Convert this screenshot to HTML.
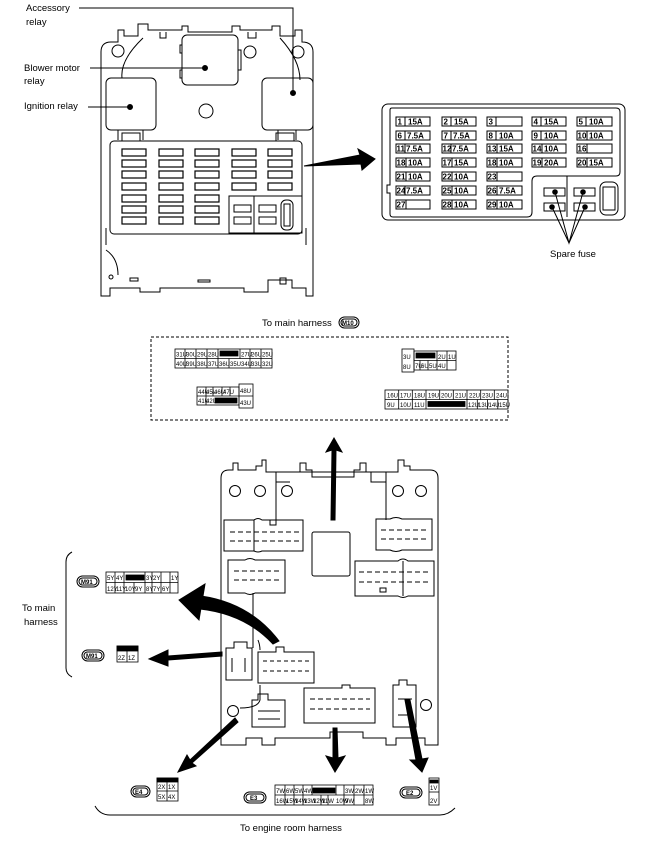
<!DOCTYPE html>
<html><head><meta charset="utf-8"><style>
html,body{margin:0;padding:0;background:#fff}
svg{display:block}
text{font-family:"Liberation Sans",sans-serif;fill:#000}
.s{font-size:6px}
.f{font-size:8px;font-weight:bold}
.l{font-size:9.5px}
</style></head><body>
<svg width="666" height="843" viewBox="0 0 666 843" xmlns="http://www.w3.org/2000/svg" fill="none" stroke="#000" stroke-width="1">
<path d="M101,296 V52 Q101,42 111,42 H118 V30 H124 V36 H138 V24 H148 V30 H182 V26 H188 V32 H232 V26 H240 V30 H272 V26 H280 V36 H295 V30 H302 V42 Q313,42 313,52 V296 H306 V288 H292 V280 H268 V292 H244 V288 H160 V292 H140 V288 H110 V296 Z"/>
<circle cx="118" cy="51" r="6"/><circle cx="250" cy="52" r="6"/><circle cx="298" cy="52" r="6"/>
<circle cx="206" cy="111" r="7"/>
<path d="M160,32 V38 H166 V32 M248,32 V38 H256 V32"/>
<path d="M143,38 Q120,60 122,78 M280,38 Q300,60 300,80"/>
<rect x="182" y="35" width="56" height="50" rx="5"/>
<path d="M182,45 h-2 v8 h2 M182,70 h-2 v8 h2 M238,50 h3 v20 h-3"/>
<rect x="106" y="78" width="50" height="52" rx="5"/>
<rect x="262" y="78" width="51" height="52" rx="5"/>
<path d="M118,130 V140 M143,130 V140 M122,133 h18 v8 h-18z M278,130 V140 M296,130 V140 M276,133 h18 v8 h-18z"/>
<rect x="110" y="141" width="192" height="93" rx="4"/>
<g stroke-width="1.2">
<rect x="122" y="149" width="24" height="7"/><rect x="159" y="149" width="24" height="7"/><rect x="195" y="149" width="24" height="7"/><rect x="232" y="149" width="24" height="7"/><rect x="268" y="149" width="24" height="7"/>
<rect x="122" y="160" width="24" height="7"/><rect x="159" y="160" width="24" height="7"/><rect x="195" y="160" width="24" height="7"/><rect x="232" y="160" width="24" height="7"/><rect x="268" y="160" width="24" height="7"/>
<rect x="122" y="171" width="24" height="7"/><rect x="159" y="171" width="24" height="7"/><rect x="195" y="171" width="24" height="7"/><rect x="232" y="171" width="24" height="7"/><rect x="268" y="171" width="24" height="7"/>
<rect x="122" y="183" width="24" height="7"/><rect x="159" y="183" width="24" height="7"/><rect x="195" y="183" width="24" height="7"/><rect x="232" y="183" width="24" height="7"/><rect x="268" y="183" width="24" height="7"/>
<rect x="122" y="195" width="24" height="7"/><rect x="159" y="195" width="24" height="7"/><rect x="195" y="195" width="24" height="7"/>
<rect x="122" y="206" width="24" height="7"/><rect x="159" y="206" width="24" height="7"/><rect x="195" y="206" width="24" height="7"/>
<rect x="122" y="217" width="24" height="7"/><rect x="159" y="217" width="24" height="7"/><rect x="195" y="217" width="24" height="7"/>
</g>
<rect x="229" y="196" width="73" height="37"/>
<path d="M254,196 V233"/>
<rect x="234" y="205" width="17" height="7"/><rect x="234" y="217" width="17" height="7"/>
<rect x="259" y="205" width="17" height="7"/><rect x="259" y="217" width="17" height="7"/>
<rect x="281" y="200" width="12" height="30" rx="5"/><rect x="284" y="204" width="6" height="22"/>
<path d="M106,228 V245 M306,228 V245 M106,250 Q118,258 118,275 M130,278 h8 v3 h-8z M198,280 h12 v2 h-12z M280,278 h6 v6 h-6z"/>
<circle cx="111" cy="277" r="2"/>
<text class="l" x="26" y="11" stroke="none">Accessory</text>
<text class="l" x="26" y="25" stroke="none">relay</text>
<path d="M79,8 H293 V92"/><circle cx="293" cy="93" r="2.5" fill="#000"/>
<text class="l" x="24" y="71" stroke="none">Blower motor</text>
<text class="l" x="24" y="84" stroke="none">relay</text>
<path d="M90,68 H205"/><circle cx="205" cy="68" r="2.5" fill="#000"/>
<text class="l" x="24" y="109" stroke="none">Ignition relay</text>
<path d="M88,107 H130"/><circle cx="130" cy="107" r="2.5" fill="#000"/>
<path d="M304,166 L360,155 L358,149 L375,159 L362,170 L361,164 Z" fill="#000"/>
<rect x="382" y="104" width="243" height="116" rx="6"/>
<path d="M390,110 Q390,108 392,108 H616 Q620,108 620,112 V172 Q620,176 616,176 H537 Q532,176 532,181 V212 Q532,217 527,217 H393 Q390,217 390,214 V193 H387 V185 H390 Z"/>
<path d="M567,176 V217"/>
<g class="f" stroke-width="1">
<g transform="translate(396,117)"><rect width="34" height="9"/><path d="M9,0V9"/><text x="1.5" y="7.5" stroke="none">1</text><text x="12" y="7.5" stroke="none">15A</text></g>
<g transform="translate(442,117)"><rect width="34" height="9"/><path d="M9,0V9"/><text x="1.5" y="7.5" stroke="none">2</text><text x="12" y="7.5" stroke="none">15A</text></g>
<g transform="translate(487,117)"><rect width="35" height="9"/><path d="M9,0V9"/><text x="1.5" y="7.5" stroke="none">3</text></g>
<g transform="translate(532,117)"><rect width="34" height="9"/><path d="M9,0V9"/><text x="1.5" y="7.5" stroke="none">4</text><text x="12" y="7.5" stroke="none">15A</text></g>
<g transform="translate(577,117)"><rect width="35" height="9"/><path d="M9,0V9"/><text x="1.5" y="7.5" stroke="none">5</text><text x="12" y="7.5" stroke="none">10A</text></g>
<g transform="translate(396,131)"><rect width="34" height="9"/><path d="M9,0V9"/><text x="1.5" y="7.5" stroke="none">6</text><text x="11" y="7.5" stroke="none">7.5A</text></g>
<g transform="translate(442,131)"><rect width="34" height="9"/><path d="M9,0V9"/><text x="1.5" y="7.5" stroke="none">7</text><text x="11" y="7.5" stroke="none">7.5A</text></g>
<g transform="translate(487,131)"><rect width="35" height="9"/><path d="M9,0V9"/><text x="1.5" y="7.5" stroke="none">8</text><text x="12" y="7.5" stroke="none">10A</text></g>
<g transform="translate(532,131)"><rect width="34" height="9"/><path d="M9,0V9"/><text x="1.5" y="7.5" stroke="none">9</text><text x="12" y="7.5" stroke="none">10A</text></g>
<g transform="translate(577,131)"><rect width="35" height="9"/><path d="M10,0V9"/><text x="0.5" y="7.5" stroke="none">10</text><text x="12" y="7.5" stroke="none">10A</text></g>
<g transform="translate(396,144)"><rect width="34" height="9"/><path d="M9,0V9"/><text x="0.5" y="7.5" stroke="none">11</text><text x="10" y="7.5" stroke="none">7.5A</text></g>
<g transform="translate(442,144)"><rect width="34" height="9"/><path d="M9,0V9"/><text x="0.5" y="7.5" stroke="none">12</text><text x="10" y="7.5" stroke="none">7.5A</text></g>
<g transform="translate(487,144)"><rect width="35" height="9"/><path d="M10,0V9"/><text x="0.5" y="7.5" stroke="none">13</text><text x="12" y="7.5" stroke="none">15A</text></g>
<g transform="translate(532,144)"><rect width="34" height="9"/><path d="M10,0V9"/><text x="0.5" y="7.5" stroke="none">14</text><text x="12" y="7.5" stroke="none">10A</text></g>
<g transform="translate(577,144)"><rect width="35" height="9"/><path d="M10,0V9"/><text x="0.5" y="7.5" stroke="none">16</text></g>
<g transform="translate(396,158)"><rect width="34" height="9"/><path d="M10,0V9"/><text x="0.5" y="7.5" stroke="none">18</text><text x="12" y="7.5" stroke="none">10A</text></g>
<g transform="translate(442,158)"><rect width="34" height="9"/><path d="M10,0V9"/><text x="0.5" y="7.5" stroke="none">17</text><text x="12" y="7.5" stroke="none">15A</text></g>
<g transform="translate(487,158)"><rect width="35" height="9"/><path d="M10,0V9"/><text x="0.5" y="7.5" stroke="none">18</text><text x="12" y="7.5" stroke="none">10A</text></g>
<g transform="translate(532,158)"><rect width="34" height="9"/><path d="M10,0V9"/><text x="0.5" y="7.5" stroke="none">19</text><text x="12" y="7.5" stroke="none">20A</text></g>
<g transform="translate(577,158)"><rect width="35" height="9"/><path d="M10,0V9"/><text x="0.5" y="7.5" stroke="none">20</text><text x="12" y="7.5" stroke="none">15A</text></g>
<g transform="translate(396,172)"><rect width="34" height="9"/><path d="M10,0V9"/><text x="0.5" y="7.5" stroke="none">21</text><text x="12" y="7.5" stroke="none">10A</text></g>
<g transform="translate(442,172)"><rect width="34" height="9"/><path d="M10,0V9"/><text x="0.5" y="7.5" stroke="none">22</text><text x="12" y="7.5" stroke="none">10A</text></g>
<g transform="translate(487,172)"><rect width="35" height="9"/><path d="M10,0V9"/><text x="0.5" y="7.5" stroke="none">23</text></g>
<g transform="translate(396,186)"><rect width="34" height="9"/><path d="M9,0V9"/><text x="0.5" y="7.5" stroke="none">24</text><text x="10" y="7.5" stroke="none">7.5A</text></g>
<g transform="translate(442,186)"><rect width="34" height="9"/><path d="M10,0V9"/><text x="0.5" y="7.5" stroke="none">25</text><text x="12" y="7.5" stroke="none">10A</text></g>
<g transform="translate(487,186)"><rect width="35" height="9"/><path d="M10,0V9"/><text x="0.5" y="7.5" stroke="none">26</text><text x="12" y="7.5" stroke="none">7.5A</text></g>
<g transform="translate(396,200)"><rect width="34" height="9"/><path d="M10,0V9"/><text x="0.5" y="7.5" stroke="none">27</text></g>
<g transform="translate(442,200)"><rect width="34" height="9"/><path d="M10,0V9"/><text x="0.5" y="7.5" stroke="none">28</text><text x="12" y="7.5" stroke="none">10A</text></g>
<g transform="translate(487,200)"><rect width="35" height="9"/><path d="M10,0V9"/><text x="0.5" y="7.5" stroke="none">29</text><text x="12" y="7.5" stroke="none">10A</text></g>
</g>
<rect x="544" y="188" width="21" height="8"/><rect x="544" y="203" width="21" height="8"/>
<rect x="574" y="188" width="21" height="8"/><rect x="574" y="203" width="21" height="8"/>
<rect x="600" y="182" width="18" height="33" rx="6"/><rect x="603" y="187" width="12" height="23"/>
<circle cx="555" cy="192" r="2.3" fill="#000"/><circle cx="552" cy="207" r="2.3" fill="#000"/><circle cx="583" cy="192" r="2.3" fill="#000"/><circle cx="585" cy="207" r="2.3" fill="#000"/>
<path d="M555,192 L569,243 L583,192 M552,207 L569,243 L585,207"/>
<text class="l" x="550" y="257" stroke="none">Spare fuse</text>
<text class="l" x="262" y="326" stroke="none">To main harness</text>
<rect x="339" y="317" width="20" height="11" rx="5.5"/><rect x="341" y="319" width="16" height="7" rx="3.5"/>
<text x="342" y="325" stroke="none" style="font-size:6px;font-weight:bold">M10</text>
<rect x="151" y="337" width="357" height="83" stroke-dasharray="3,2"/>
<g class="s" stroke-width="0.8">
<rect x="175" y="349" width="97" height="19"/><path d="M175,358.5H272 M185,349V368 M196,349V368 M207,349V368 M218,349V368 M240,349V358.5 M250,349V368 M261,349V368 M229,358.5V368"/>
<rect x="220" y="351" width="18" height="5" fill="#000"/>
<text x="176" y="356.5" stroke="none">31U</text><text x="186" y="356.5" stroke="none">30U</text><text x="197" y="356.5" stroke="none">29U</text><text x="208" y="356.5" stroke="none">28U</text><text x="241" y="356.5" stroke="none">27U</text><text x="251" y="356.5" stroke="none">26U</text><text x="262" y="356.5" stroke="none">25U</text>
<text x="176" y="366" stroke="none">40U</text><text x="186" y="366" stroke="none">39U</text><text x="197" y="366" stroke="none">38U</text><text x="208" y="366" stroke="none">37U</text><text x="219" y="366" stroke="none">36U</text><text x="230" y="366" stroke="none">35U</text><text x="241" y="366" stroke="none">34U</text><text x="251" y="366" stroke="none">33U</text><text x="262" y="366" stroke="none">32U</text>
<rect x="402" y="349" width="12" height="23"/><rect x="414" y="351" width="42" height="19"/><path d="M414,360.5H456 M437,351V370 M447,351V370 M420,360.5V370 M428,360.5V370"/>
<rect x="416" y="353" width="19" height="5" fill="#000"/>
<text x="403" y="359" stroke="none">3U</text><text x="403" y="369" stroke="none">8U</text><text x="438" y="359" stroke="none">2U</text><text x="448" y="359" stroke="none">1U</text>
<text x="415" y="368" stroke="none">7U</text><text x="421" y="368" stroke="none">6U</text><text x="429" y="368" stroke="none">5U</text><text x="438" y="368" stroke="none">4U</text>
<rect x="197" y="387" width="42" height="18"/><rect x="239" y="384" width="14" height="24"/><path d="M197,396H239 M239,396H253 M206,387V405 M213,387V396 M222,387V396 M230,387V396"/>
<rect x="215" y="398" width="22" height="5" fill="#000"/>
<text x="198" y="394" stroke="none">44U</text><text x="206" y="394" stroke="none">45U</text><text x="214" y="394" stroke="none">46U</text><text x="223" y="394" stroke="none">47U</text><text x="240" y="393" stroke="none">48U</text>
<text x="198" y="403" stroke="none">41U</text><text x="206" y="403" stroke="none">42U</text><text x="240" y="405" stroke="none">43U</text>
<rect x="385" y="390" width="123" height="19"/><path d="M385,399.5H508 M398.7,390V399.5 M412.3,390V399.5 M426,390V399.5 M439.7,390V399.5 M453.3,390V399.5 M467,390V399.5 M480.7,390V399.5 M494.3,390V399.5 M398.7,399.5V409 M412.3,399.5V409 M426,399.5V409 M467,399.5V409 M477.3,399.5V409 M487.5,399.5V409 M497.8,399.5V409"/>
<rect x="428" y="401.5" width="37" height="5" fill="#000"/>
<text x="387" y="397.5" stroke="none">16U</text><text x="400" y="397.5" stroke="none">17U</text><text x="414" y="397.5" stroke="none">18U</text><text x="428" y="397.5" stroke="none">19U</text><text x="441" y="397.5" stroke="none">20U</text><text x="455" y="397.5" stroke="none">21U</text><text x="469" y="397.5" stroke="none">22U</text><text x="482" y="397.5" stroke="none">23U</text><text x="496" y="397.5" stroke="none">24U</text>
<text x="387" y="407" stroke="none">9U</text><text x="400" y="407" stroke="none">10U</text><text x="414" y="407" stroke="none">11U</text><text x="468" y="407" stroke="none">12U</text><text x="478" y="407" stroke="none">13U</text><text x="488.5" y="407" stroke="none">14U</text><text x="499" y="407" stroke="none">15U</text>
</g>
<path d="M221,745 V478 Q221,470 229,470 H233 V463 H238 V470 H256 V466 H262 V460 H266 V472 H300 V463 H306 V470 H312 V477 H354 V470 H360 V463 H366 V472 H398 V460 H404 V466 H410 V470 H430 Q438,470 438,478 V745 H425 V738 H396 V745 H386 V738 H363 V732 H330 V738 H275 V745 H262 V738 H246 V745 Z"/>
<circle cx="235" cy="491" r="5.5"/><circle cx="260" cy="491" r="5.5"/><circle cx="287" cy="491" r="5.5"/><circle cx="398" cy="491" r="5.5"/><circle cx="421" cy="491" r="5.5"/>
<path d="M276,472 H390 M276,472 V520 M386,472 V520 M276,472 V482 H290 M371,472 V482 H386"/>
<path d="M224,520 H254 Q258,517 262,520 H303 V551 H262 Q258,553 254,551 H224 Z M254,520 V551 M270,520 h6 v5 h-6z"/>
<path d="M230,532 h70 M230,541 h70" stroke-dasharray="5,3"/>
<path d="M376,519 H390 Q396,516 402,519 H432 V550 H402 Q396,553 390,550 H376 Z"/>
<path d="M381,530 h48 M381,539 h48" stroke-dasharray="5,3"/>
<rect x="312" y="532" width="38" height="44" rx="2"/>
<path d="M228,560 H245 Q250,557 255,560 H285 V593 H255 Q250,596 245,593 H228 Z"/>
<path d="M234,571 h48 M234,580 h48" stroke-dasharray="5,3"/>
<path d="M355,561 H398 Q403,557 408,561 H434 V596 H408 Q403,599 398,596 H355 Z M403,561 V596 M380,588 h6 v4 h-6z"/>
<path d="M359,572 h72 M359,582 h72" stroke-dasharray="5,3"/>
<path d="M253,593 V648 M258,640 Q260,645 260,650 M260,685 V700 Q258,708 240,708"/>
<path d="M258,652 H276 V647 H284 V652 H314 V683 H258 Z"/>
<path d="M263,661 h48 M263,671 h48" stroke-dasharray="4,3"/>
<path d="M226,648 H234 V642 H247 V648 H252 V680 H226 Z M232,658 V672 M245,658 V672"/>
<circle cx="233" cy="711" r="5.5"/>
<path d="M252,700 H258 V694 H268 V700 H285 V727 H252 Z M258,711 h22 M258,719 h22"/>
<path d="M304,688 H342 V685 H350 V688 H375 V723 H304 Z"/>
<path d="M310,699 h60 M310,709 h60" stroke-dasharray="5,3"/>
<path d="M393,685 H399 V680 H407 V685 H416 V727 H393 Z M398,699 h14 M398,715 h14"/>
<circle cx="426" cy="705" r="5.5"/>
<path d="M331,520 L332,450 L326,452 L334,438 L342,452 L336,450 L335,520 Z" fill="#000"/>
<path d="M201,596 Q250,603 279,641 L273,644 Q245,614 200,609 Z" fill="#000"/>
<path d="M179,600 L205,584 L199,620 Z" fill="#000"/>
<path d="M222,652 L168,656 L168,650 L149,659 L168,666 L168,660 L222,656 Z" fill="#000"/>
<path d="M235,718 L190,760 L187,755 L178,772 L196,766 L192,763 L238,722 Z" fill="#000"/>
<path d="M333,728 L333,758 L326,756 L335,772 L345,756 L338,758 L337,728 Z" fill="#000"/>
<path d="M405,700 L416,760 L410,760 L422,772 L428,758 L422,759 L410,700 Z" fill="#000"/>
<path d="M72,552 Q66,555 66,562 V668 Q66,674 72,677"/>
<text class="l" x="22" y="611" stroke="none">To main</text>
<text class="l" x="24" y="625" stroke="none">harness</text>
<rect x="77" y="576" width="22" height="11" rx="5.5"/><rect x="79" y="578" width="18" height="7" rx="3.5"/>
<text x="81" y="584" stroke="none" style="font-size:6px;font-weight:bold">M91</text>
<rect x="82" y="650" width="22" height="11" rx="5.5"/><rect x="84" y="652" width="18" height="7" rx="3.5"/>
<text x="86" y="658" stroke="none" style="font-size:6px;font-weight:bold">M91</text>
<g class="s" stroke-width="0.8">
<rect x="106" y="572" width="72" height="21"/><path d="M106,582.5H178 M115,572V593 M124,582.5V593 M134,582.5V593 M145,572V593 M152,572V593 M161,572V593 M170,572V593 M124,572V582.5"/>
<rect x="126" y="575" width="18" height="5" fill="#000"/>
<text x="107" y="580" stroke="none">5Y</text><text x="116" y="580" stroke="none">4Y</text><text x="146" y="580" stroke="none">3Y</text><text x="153" y="580" stroke="none">2Y</text><text x="171" y="580" stroke="none">1Y</text>
<text x="107" y="591" stroke="none">12Y</text><text x="116" y="591" stroke="none">11Y</text><text x="125" y="591" stroke="none">10Y</text><text x="135" y="591" stroke="none">9Y</text><text x="146" y="591" stroke="none">8Y</text><text x="153" y="591" stroke="none">7Y</text><text x="162" y="591" stroke="none">6Y</text>
<rect x="117" y="646" width="21" height="16"/><rect x="117" y="646" width="21" height="5" fill="#000"/><path d="M127,651V662"/>
<text x="118" y="660" stroke="none">2Z</text><text x="128" y="660" stroke="none">1Z</text>
<rect x="157" y="778" width="21" height="23"/><rect x="157" y="778" width="21" height="4" fill="#000"/><path d="M157,791H178 M167,782V801"/>
<text x="158" y="789" stroke="none">2X</text><text x="168" y="789" stroke="none">1X</text><text x="158" y="799" stroke="none">5X</text><text x="168" y="799" stroke="none">4X</text>
<rect x="275" y="785" width="98" height="20"/><path d="M275,795H373 M285,785V805 M294,785V805 M303,785V805 M312,785V795 M336,785V795 M344,785V805 M354,785V805 M364,785V805 M321,795V805 M328,795V805"/>
<rect x="313" y="788" width="22" height="5" fill="#000"/>
<text x="276" y="793" stroke="none">7W</text><text x="286" y="793" stroke="none">6W</text><text x="295" y="793" stroke="none">5W</text><text x="304" y="793" stroke="none">4W</text><text x="345" y="793" stroke="none">3W</text><text x="355" y="793" stroke="none">2W</text><text x="365" y="793" stroke="none">1W</text>
<text x="276" y="803" stroke="none">16W</text><text x="286" y="803" stroke="none">15W</text><text x="295" y="803" stroke="none">14W</text><text x="304" y="803" stroke="none">13W</text><text x="313" y="803" stroke="none">12W</text><text x="322" y="803" stroke="none">11W</text><text x="336" y="803" stroke="none">10W</text><text x="345" y="803" stroke="none">9W</text><text x="365" y="803" stroke="none">8W</text>
<rect x="429" y="778" width="10" height="27"/><rect x="430" y="780" width="8" height="3" fill="#000"/><path d="M429,792H439"/>
<text x="430" y="790" stroke="none">1V</text><text x="430" y="803" stroke="none">2V</text>
</g>
<rect x="131" y="786" width="19" height="11" rx="5.5"/><rect x="133" y="788" width="15" height="7" rx="3.5"/><text x="135" y="794" stroke="none" style="font-size:6px;font-weight:bold">E4</text>
<rect x="244" y="792" width="22" height="11" rx="5.5"/><rect x="246" y="794" width="18" height="7" rx="3.5"/><text x="250" y="800" stroke="none" style="font-size:6px;font-weight:bold">E3</text>
<rect x="400" y="787" width="22" height="11" rx="5.5"/><rect x="402" y="789" width="18" height="7" rx="3.5"/><text x="406" y="795" stroke="none" style="font-size:6px;font-weight:bold">E2</text>
<path d="M95,806 Q100,815 110,815 H440 Q448,815 455,808"/>
<text class="l" x="240" y="831" stroke="none">To engine room harness</text>
</svg>
</body></html>
